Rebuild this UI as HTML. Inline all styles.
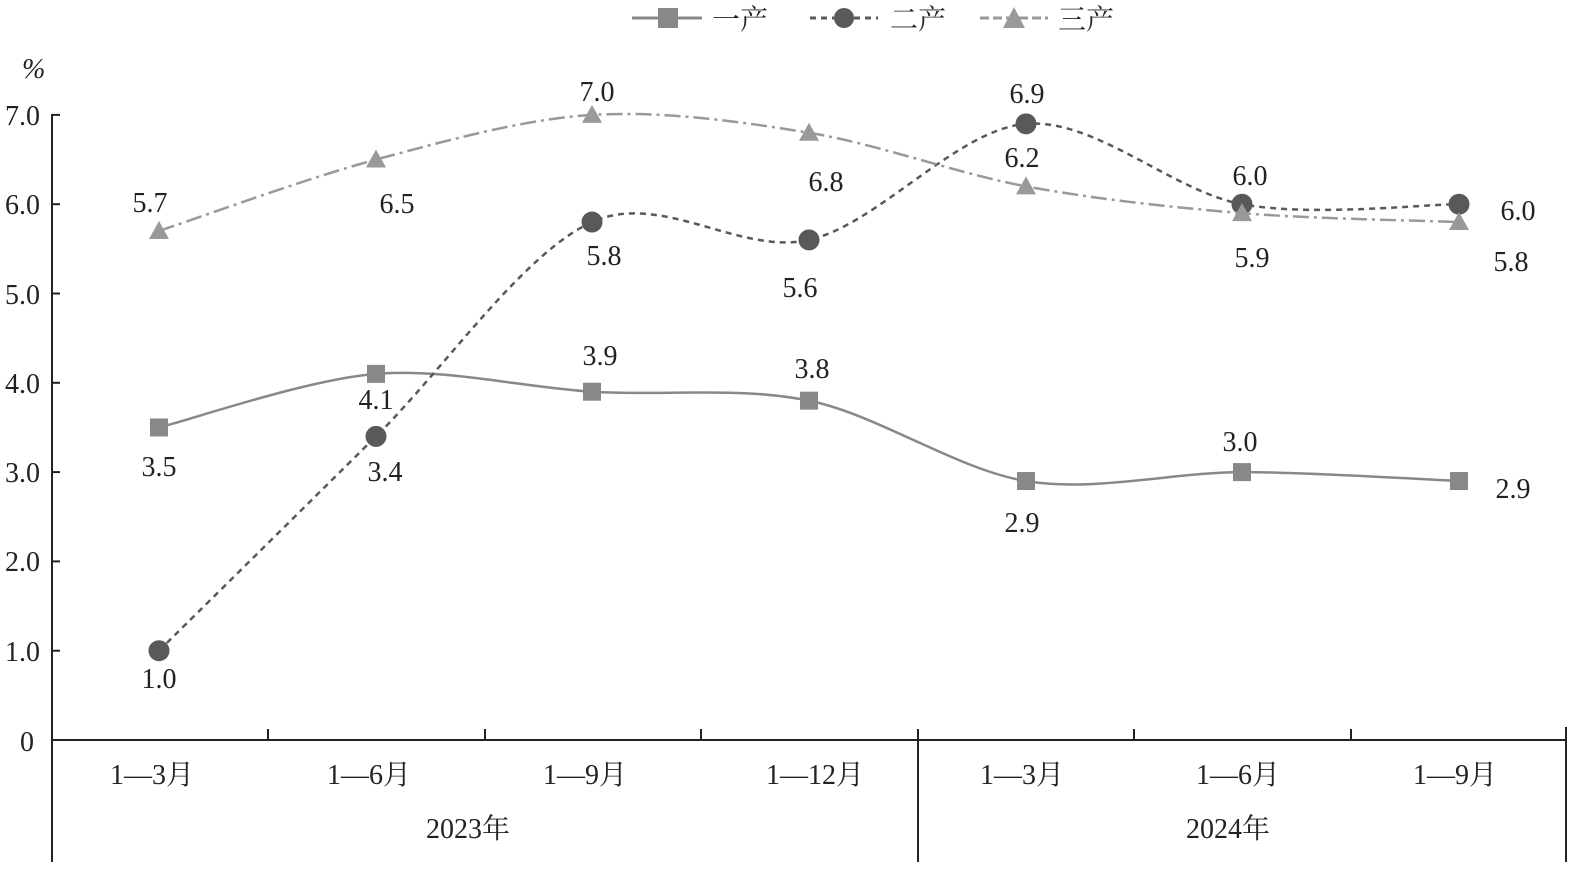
<!DOCTYPE html><html><head><meta charset="utf-8"><style>body{margin:0;background:#fff}svg{display:block}text{font-family:"Liberation Serif","Noto Serif CJK SC",serif;font-size:28px;fill:#222}</style></head><body>
<svg id="s" width="1593" height="874" xmlns="http://www.w3.org/2000/svg">
<g stroke="#222" stroke-width="2" fill="none">
<line x1="52" y1="114" x2="52" y2="862"/><line x1="52" y1="740" x2="1566" y2="740"/>
<line x1="918" y1="740" x2="918" y2="862"/><line x1="1566" y1="727" x2="1566" y2="862"/>
<line x1="268" y1="740" x2="268" y2="729"/><line x1="485" y1="740" x2="485" y2="729"/><line x1="701" y1="740" x2="701" y2="729"/><line x1="918" y1="740" x2="918" y2="729"/><line x1="1134" y1="740" x2="1134" y2="729"/><line x1="1351" y1="740" x2="1351" y2="729"/>
<g id="yt"></g>
</g>
<g text-anchor="end"><text x="40" y="125">7.0</text><text x="40" y="214">6.0</text><text x="40" y="304">5.0</text><text x="40" y="393">4.0</text><text x="40" y="482">3.0</text><text x="40" y="571">2.0</text><text x="40" y="661">1.0</text><text x="34" y="751">0</text></g>
<text x="22" y="78" font-style="italic">%</text>
<g text-anchor="middle" style="font-size:29px"><text x="152" y="784">1—3月</text><text x="369" y="784">1—6月</text><text x="585" y="784">1—9月</text><text x="815" y="784">1—12月</text><text x="1022" y="784">1—3月</text><text x="1238" y="784">1—6月</text><text x="1455" y="784">1—9月</text>
<text x="468" y="838">2023年</text><text x="1228" y="838">2024年</text></g>
<g id="lines"></g>
<g text-anchor="middle">
<text x="159" y="476">3.5</text><text x="376" y="409">4.1</text><text x="600" y="365">3.9</text><text x="812" y="378">3.8</text><text x="1022" y="532">2.9</text><text x="1240" y="451">3.0</text><text x="1513" y="498">2.9</text>
<text x="159" y="688">1.0</text><text x="385" y="481">3.4</text><text x="604" y="265">5.8</text><text x="800" y="297">5.6</text><text x="1027" y="103">6.9</text><text x="1250" y="185">6.0</text><text x="1518" y="220">6.0</text>
<text x="150" y="212">5.7</text><text x="397" y="213">6.5</text><text x="597" y="101">7.0</text><text x="826" y="191">6.8</text><text x="1022" y="167">6.2</text><text x="1252" y="267">5.9</text><text x="1511" y="271">5.8</text>
</g>
<g>
<line x1="632" y1="18" x2="702" y2="18" stroke="#888" stroke-width="3"/><rect x="658" y="8" width="20" height="20" fill="#888"/><text x="712" y="29">一产</text>
<line x1="810" y1="18" x2="878" y2="18" stroke="#595959" stroke-width="3" stroke-dasharray="6,5"/><circle cx="844" cy="18" r="10" fill="#595959"/><text x="890" y="29">二产</text>
<line x1="980" y1="18" x2="1048" y2="18" stroke="#999" stroke-width="3" stroke-dasharray="9,4"/><polygon points="1014,7 1025,28 1003,28" fill="#999"/><text x="1058" y="29">三产</text>
</g>
</svg>
<script>
var ns="http://www.w3.org/2000/svg",xs=[159,376,592,809,1026,1242,1459];
function Y(v){return 740-89.3*v}
var yt=document.getElementById('yt');
for(var i=1;i<=7;i++){var l=document.createElementNS(ns,'line');l.setAttribute('x1',52);l.setAttribute('x2',60);l.setAttribute('y1',Y(i));l.setAttribute('y2',Y(i));yt.appendChild(l);}
var S=[[[3.5,4.1,3.9,3.8,2.9,3.0,2.9],'#888','none','sq'],[[1.0,3.4,5.8,5.6,6.9,6.0,6.0],'#595959','6,5','ci'],[[5.7,6.5,7.0,6.8,6.2,5.9,5.8],'#999','16,5,3,5','tr']];
var g=document.getElementById('lines');
S.forEach(function(s){var p=s[0].map(function(v,i){return [xs[i],Y(v)]});var d='M'+p[0];
for(var i=0;i<p.length-1;i++){var a=p[i-1]||p[i],b=p[i],c=p[i+1],e=p[i+2]||c,t=0.16;
d+=' C'+(b[0]+(c[0]-a[0])*t)+','+(b[1]+(c[1]-a[1])*t)+' '+(c[0]-(e[0]-b[0])*t)+','+(c[1]-(e[1]-b[1])*t)+' '+c;}
var pa=document.createElementNS(ns,'path');pa.setAttribute('d',d);pa.setAttribute('fill','none');pa.setAttribute('stroke',s[1]);pa.setAttribute('stroke-width',2.5);if(s[2]!='none')pa.setAttribute('stroke-dasharray',s[2]);g.appendChild(pa);
p.forEach(function(q){var m;if(s[3]=='sq'){m=document.createElementNS(ns,'rect');m.setAttribute('x',q[0]-9);m.setAttribute('y',q[1]-9);m.setAttribute('width',18);m.setAttribute('height',18);}
else if(s[3]=='ci'){m=document.createElementNS(ns,'circle');m.setAttribute('cx',q[0]);m.setAttribute('cy',q[1]);m.setAttribute('r',10.5);}
else{m=document.createElementNS(ns,'polygon');m.setAttribute('points',q[0]+','+(q[1]-10)+' '+(q[0]+10)+','+(q[1]+8)+' '+(q[0]-10)+','+(q[1]+8));}
m.setAttribute('fill',s[1]);g.appendChild(m);});});
</script>
</body></html>
